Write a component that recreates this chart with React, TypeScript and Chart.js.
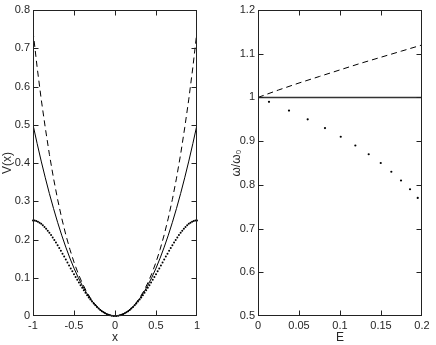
import React, { useEffect, useRef } from "react";
import { Chart, registerables } from "chart.js";
Chart.register(...registerables);

const FONT = '"Liberation Sans", Arial, Helvetica, sans-serif';

// ---- Left panel: potentials V(x)
const xLine = [-1, -0.95, -0.9, -0.85, -0.8, -0.75, -0.7, -0.65, -0.6, -0.55, -0.5, -0.45, -0.4, -0.35, -0.3, -0.25, -0.2, -0.15, -0.1, -0.05, 0, 0.05, 0.1, 0.15, 0.2, 0.25, 0.3, 0.35, 0.4, 0.45, 0.5, 0.55, 0.6, 0.65, 0.7, 0.75, 0.8, 0.85, 0.9, 0.95, 1];
const vSolid = [0.5, 0.4513, 0.405, 0.3613, 0.32, 0.2813, 0.245, 0.2113, 0.18, 0.1513, 0.125, 0.1013, 0.08, 0.0613, 0.045, 0.0313, 0.02, 0.0113, 0.005, 0.0013, 0, 0.0013, 0.005, 0.0113, 0.02, 0.0313, 0.045, 0.0613, 0.08, 0.1013, 0.125, 0.1513, 0.18, 0.2113, 0.245, 0.2813, 0.32, 0.3613, 0.405, 0.4513, 0.5];
const vDashed = [0.745, 0.651, 0.567, 0.4918, 0.4224, 0.3604, 0.305, 0.2559, 0.2124, 0.1741, 0.1406, 0.1115, 0.0864, 0.065, 0.047, 0.0322, 0.0204, 0.0114, 0.005, 0.0013, 0, 0.0013, 0.005, 0.0114, 0.0204, 0.0322, 0.047, 0.065, 0.0864, 0.1115, 0.1406, 0.1741, 0.2124, 0.2559, 0.305, 0.3604, 0.4224, 0.4918, 0.567, 0.651, 0.745];
const xDots = [-1, -0.98, -0.96, -0.94, -0.92, -0.9, -0.88, -0.86, -0.84, -0.82, -0.8, -0.78, -0.76, -0.74, -0.72, -0.7, -0.68, -0.66, -0.64, -0.62, -0.6, -0.58, -0.56, -0.54, -0.52, -0.5, -0.48, -0.46, -0.44, -0.42, -0.4, -0.38, -0.36, -0.34, -0.32, -0.3, -0.28, -0.26, -0.24, -0.22, -0.2, -0.18, -0.16, -0.14, -0.12, -0.1, -0.08, -0.06, -0.04, -0.02, 0, 0.02, 0.04, 0.06, 0.08, 0.1, 0.12, 0.14, 0.16, 0.18, 0.2, 0.22, 0.24, 0.26, 0.28, 0.3, 0.32, 0.34, 0.36, 0.38, 0.4, 0.42, 0.44, 0.46, 0.48, 0.5, 0.52, 0.54, 0.56, 0.58, 0.6, 0.62, 0.64, 0.66, 0.68, 0.7, 0.72, 0.74, 0.76, 0.78, 0.8, 0.82, 0.84, 0.86, 0.88, 0.9, 0.92, 0.94, 0.96, 0.98, 1];
const vDotted = [0.25, 0.2496, 0.2485, 0.2466, 0.2441, 0.241, 0.2373, 0.233, 0.2283, 0.2232, 0.2176, 0.2117, 0.2054, 0.1988, 0.192, 0.185, 0.1777, 0.1704, 0.1629, 0.1553, 0.1476, 0.1399, 0.1322, 0.1245, 0.1169, 0.1094, 0.1019, 0.0946, 0.0874, 0.0804, 0.0736, 0.067, 0.0606, 0.0545, 0.0486, 0.043, 0.0377, 0.0327, 0.028, 0.0236, 0.0196, 0.0159, 0.0126, 0.0097, 0.0071, 0.005, 0.0032, 0.0018, 0.0008, 0.0002, 0, 0.0002, 0.0008, 0.0018, 0.0032, 0.005, 0.0071, 0.0097, 0.0126, 0.0159, 0.0196, 0.0236, 0.028, 0.0327, 0.0377, 0.043, 0.0486, 0.0545, 0.0606, 0.067, 0.0736, 0.0804, 0.0874, 0.0946, 0.1019, 0.1094, 0.1169, 0.1245, 0.1322, 0.1399, 0.1476, 0.1553, 0.1629, 0.1704, 0.1777, 0.185, 0.192, 0.1988, 0.2054, 0.2117, 0.2176, 0.2232, 0.2283, 0.233, 0.2373, 0.241, 0.2441, 0.2466, 0.2485, 0.2496, 0.25];
const leftXTicks = [-1, -0.5, 0, 0.5, 1];
const leftYTicks = [0, 0.1, 0.2, 0.3, 0.4, 0.5, 0.6, 0.7, 0.8];

// ---- Right panel: frequency ratio vs E
const eLine = [0, 0.025, 0.05, 0.075, 0.1, 0.125, 0.15, 0.175, 0.2];
const wSolid = [1, 1, 1, 1, 1, 1, 1, 1, 1];
const wDashed = [1, 1.017, 1.033, 1.048, 1.063, 1.078, 1.092, 1.106, 1.12];
const eDots = [0.0134, 0.0378, 0.0606, 0.0817, 0.1009, 0.1187, 0.135, 0.1497, 0.1626, 0.1744, 0.1854, 0.1948];
const wDots = [0.99, 0.97, 0.95, 0.93, 0.91, 0.89, 0.87, 0.85, 0.83, 0.81, 0.79, 0.77];
const rightXTicks = [0, 0.05, 0.1, 0.15, 0.2];
const rightYTicks = [0.5, 0.6, 0.7, 0.8, 0.9, 1, 1.1, 1.2];

const pts = (xs: number[], ys: number[]) => xs.map((x, i) => ({ x, y: ys[i] }));
const fmt = (v: any) => String(Math.round(Number(v) * 1000) / 1000);

const framePlugin = {
  id: "frame",
  afterDraw(chart: any) {
    const { ctx, chartArea: a, scales } = chart;
    ctx.save();
    ctx.strokeStyle = "#222";
    ctx.lineWidth = 1;
    const L = Math.round(a.left) + 0.5;
    const R = Math.round(a.right) - 0.5;
    const T = Math.round(a.top) + 0.5;
    const B = Math.round(a.bottom) - 0.5;
    ctx.strokeRect(L, T, R - L, B - T);
    const len = 5;
    const clamp = (p: number, lo: number, hi: number) => Math.min(hi, Math.max(lo, p));
    ctx.beginPath();
    for (const t of scales.x.ticks) {
      const p = clamp(Math.round(scales.x.getPixelForValue(t.value)) + 0.5, L, R);
      ctx.moveTo(p, B); ctx.lineTo(p, B - len);
      ctx.moveTo(p, T); ctx.lineTo(p, T + len);
    }
    for (const t of scales.y.ticks) {
      const p = clamp(Math.round(scales.y.getPixelForValue(t.value)) + 0.5, T, B);
      ctx.moveTo(L, p); ctx.lineTo(L + len, p);
      ctx.moveTo(R, p); ctx.lineTo(R - len, p);
    }
    ctx.stroke();
    ctx.restore();
  },
};

function makeOptions(cfg: any) {
  const tickFont = { family: FONT, size: 11 };
  return {
    animation: false,
    responsive: false,
    maintainAspectRatio: false,
    layout: { padding: { top: 10, right: cfg.padRight, left: 0, bottom: 0 } },
    plugins: { legend: { display: false }, tooltip: { enabled: false } },
    scales: {
      x: {
        type: "linear",
        min: cfg.xMin,
        max: cfg.xMax,
        afterBuildTicks: (s: any) => { s.ticks = cfg.xTicks.map((v: number) => ({ value: v })); },
        afterFit: (s: any) => { s.height = 29; },
        ticks: { callback: fmt, font: tickFont, color: "#262626", padding: 3, maxRotation: 0, autoSkip: false },
        grid: { display: false, drawTicks: false },
        border: { display: false },
        title: { display: true, text: cfg.xTitle, font: { family: FONT, size: 12 }, color: "#262626", padding: 0 },
      },
      y: {
        type: "linear",
        min: cfg.yMin,
        max: cfg.yMax,
        afterBuildTicks: (s: any) => { s.ticks = cfg.yTicks.map((v: number) => ({ value: v })); },
        afterFit: (s: any) => { s.width = cfg.yWidth; },
        ticks: { callback: fmt, font: tickFont, color: "#262626", padding: 3, autoSkip: false },
        grid: { display: false, drawTicks: false },
        border: { display: false },
        title: { display: true, text: cfg.yTitle, font: { family: FONT, size: 12 }, color: "#262626", padding: { top: cfg.yTitlePad, bottom: 0 } },
      },
    },
  };
}

function ChartCanvas({ config, left, width }: { config: any; left: number; width: number }) {
  const ref = useRef<HTMLCanvasElement>(null);
  useEffect(() => {
    const chart = new Chart(ref.current as HTMLCanvasElement, config);
    return () => chart.destroy();
  }, []);
  return (
    <canvas
      ref={ref}
      width={width}
      height={345}
      style={{ position: "absolute", left, top: 0, width, height: 345 }}
    />
  );
}

export default function App() {
  const leftConfig = {
    type: "scatter",
    data: {
      datasets: [
        { data: pts(xLine, vSolid), showLine: true, borderColor: "#000", borderWidth: 1, pointRadius: 0, fill: false },
        { data: pts(xLine, vDashed), showLine: true, borderColor: "#000", borderWidth: 1, borderDash: [6, 4], pointRadius: 0, fill: false },
        { data: pts(xDots, vDotted), showLine: false, clip: false, pointRadius: 1, pointBackgroundColor: "#000", pointBorderWidth: 0, borderColor: "#000" },
      ],
    },
    options: makeOptions({ padRight: 18, xMin: -1, xMax: 1, yMin: 0, yMax: 0.8, xTicks: leftXTicks, yTicks: leftYTicks, xTitle: "x", yTitle: "V(x)", yWidth: 33, yTitlePad: 0 }),
    plugins: [framePlugin],
  };
  const rightConfig = {
    type: "scatter",
    data: {
      datasets: [
        { data: pts(eLine, wSolid), showLine: true, borderColor: "#333", borderWidth: 1.5, pointRadius: 0, fill: false },
        { data: pts(eLine, wDashed), showLine: true, borderColor: "#000", borderWidth: 1, borderDash: [6, 4], pointRadius: 0, fill: false },
        { data: pts(eDots, wDots), showLine: false, pointRadius: 1.1, pointBackgroundColor: "#000", pointBorderWidth: 0, borderColor: "#000" },
      ],
    },
    options: makeOptions({ padRight: 14, xMin: 0, xMax: 0.2, yMin: 0.5, yMax: 1.2, xTicks: rightXTicks, yTicks: rightYTicks, xTitle: "E", yTitle: "ω/ω₀", yWidth: 38, yTitlePad: 9 }),
    plugins: [framePlugin],
  };
  return (
    <div style={{ position: "fixed", left: 0, top: 0, width: 436, height: 345, background: "#fff" }}>
      <ChartCanvas config={leftConfig} left={0} width={215} />
      <ChartCanvas config={rightConfig} left={220} width={216} />
    </div>
  );
}
